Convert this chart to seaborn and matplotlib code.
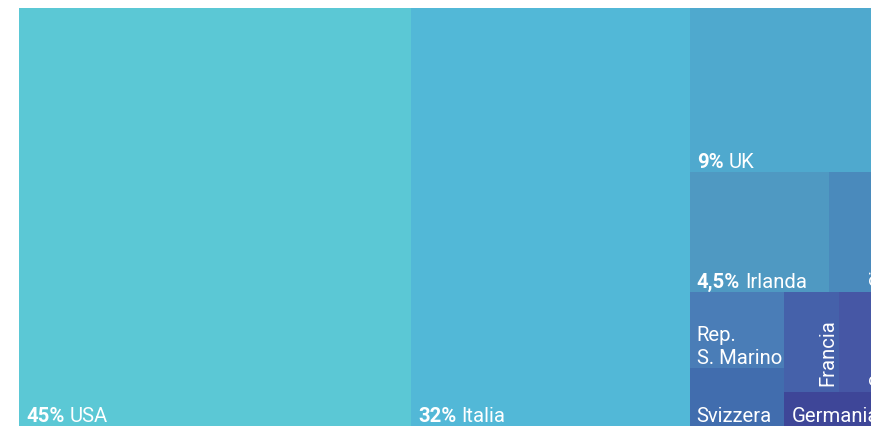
import matplotlib
matplotlib.use("Agg")
import matplotlib.pyplot as plt
import matplotlib.transforms as mtransforms
from matplotlib.patches import Rectangle
import seaborn as sns

# ---- data ----
countries = ["USA", "Italia", "UK", "Irlanda", "Cina", "Rep.\nS. Marino",
             "Svizzera", "Francia", "Spagna", "Germania"]
shares = [45, 32, 9, 4.6, 2.0, 2.0, 1.5, 1.5, 1.4, 1.0]
pct_labels = ["45%", "32%", "9%", "4,5%", "", "", "", "", "", ""]
colors = ["#5BC8D5", "#52B8D7", "#4FA9CE", "#4F99C2", "#4A8ABC",
          "#4A7DB7", "#416DAE", "#4561AA", "#4657A5", "#3E4698"]

sns.set_style("white")
plt.rcParams["font.family"] = ["Roboto", "DejaVu Sans"]

W_PX, H_PX = 871, 427
fig = plt.figure(figsize=(W_PX / 100, H_PX / 100), dpi=100)
fig.patch.set_facecolor("white")

# treemap drawing area in pixel units (clipped by the figure on right/bottom)
TM_W, TM_H = 871.0, 418.0
left_px, top_px = 19.0, 9.0
ax = fig.add_axes([left_px / W_PX, (H_PX - top_px - TM_H) / H_PX,
                   TM_W / W_PX, TM_H / H_PX])
ax.set_xlim(0, TM_W)
ax.set_ylim(TM_H, 0)
ax.axis("off")


def worst(row, length):
    s = sum(row)
    return max(max(length ** 2 * r / s ** 2, s ** 2 / (length ** 2 * r)) for r in row)


def squarify(values, x, y, w, h):
    total = sum(values)
    sizes = [v * w * h / total for v in values]
    rects = []
    while sizes:
        length = min(w, h)
        row = [sizes[0]]
        i = 1
        while i < len(sizes) and worst(row + [sizes[i]], length) <= worst(row, length):
            row.append(sizes[i])
            i += 1
        sizes = sizes[i:]
        s = sum(row)
        if w >= h:
            cw = s / h
            yy = y
            for r in row:
                rh = r / cw
                rects.append((x, yy, cw, rh))
                yy += rh
            x += cw
            w -= cw
        else:
            rh = s / w
            xx = x
            for r in row:
                rw = r / rh
                rects.append((xx, y, rw, rh))
                xx += rw
            y += rh
            h -= rh
    return rects


rects = squarify(shares, 0, 0, TM_W, TM_H)

FS = 14.6
renderer = fig.canvas.get_renderer()
pad_x, pad_y = 7, 5
line_px = 23

for (x, y, w, h), name, pct, col in zip(rects, countries, pct_labels, colors):
    ax.add_patch(Rectangle((x, y), w, h, facecolor=col, edgecolor="none", lw=0))
    x1, y1 = x + w, y + h
    if h > 1.8 * w:
        # tall narrow cell: vertical label reading bottom-to-top, at bottom-right
        tr = mtransforms.offset_copy(ax.transData, fig=fig, x=-6, y=7, units="dots")
        ax.text(x1, y1, name.replace("\n", " "), transform=tr, rotation=90,
                rotation_mode="anchor", ha="left", va="baseline",
                color="white", fontsize=FS, clip_on=True)
        continue
    lines = name.split("\n")
    for j, line in enumerate(reversed(lines)):
        dy = pad_y + j * line_px
        xoff = pad_x
        if j == 0 and pct:
            tr = mtransforms.offset_copy(ax.transData, fig=fig, x=xoff, y=dy, units="dots")
            t = ax.text(x, y1, pct, transform=tr, ha="left", va="baseline",
                        color="white", fontsize=FS, fontweight="bold")
            bb = t.get_window_extent(renderer=renderer)
            xoff += bb.width + 5
        tr = mtransforms.offset_copy(ax.transData, fig=fig, x=xoff, y=dy, units="dots")
        ax.text(x, y1, line, transform=tr, ha="left", va="baseline",
                color="white", fontsize=FS, fontweight="normal")

fig.savefig("out.png", dpi=100, facecolor="white")
